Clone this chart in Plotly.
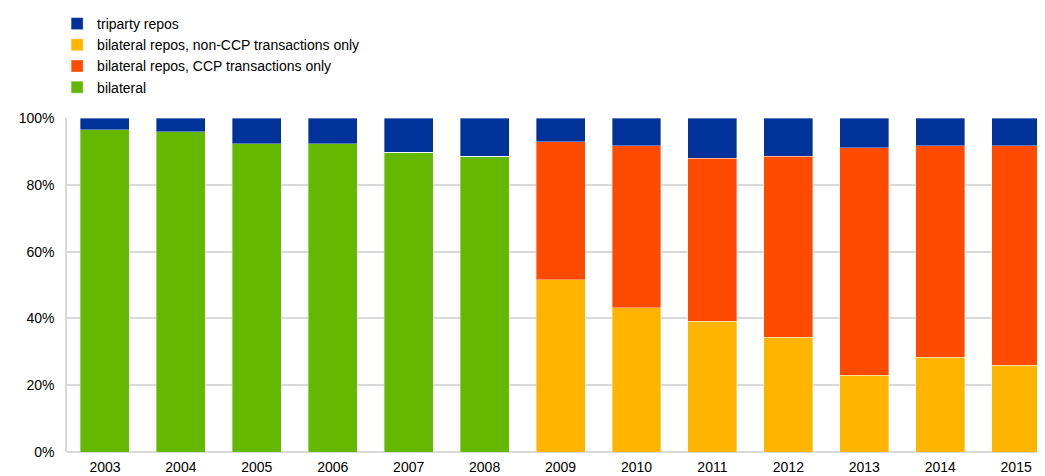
import plotly.graph_objects as go

years = ["2003", "2004", "2005", "2006", "2007", "2008", "2009",
         "2010", "2011", "2012", "2013", "2014", "2015"]
bilateral = [96.5, 95.9, 92.3, 92.3, 89.8, 88.6, 0, 0, 0, 0, 0, 0, 0]
non_ccp = [0, 0, 0, 0, 0, 0, 51.5, 43.2, 39.1, 34.3, 23.0, 28.4, 26.0]
ccp = [0, 0, 0, 0, 0, 0, 41.4, 48.5, 48.9, 54.3, 68.1, 63.3, 65.7]
triparty = [3.5, 4.1, 7.7, 7.7, 10.2, 11.4, 7.1, 8.3, 12.0, 11.4, 8.9, 8.3, 8.3]

names = ["triparty repos", "bilateral repos, non-CCP transactions only",
         "bilateral repos, CCP transactions only", "bilateral"]
colors = {"tri": "#003299", "non": "#FFB400", "ccp": "#FF4B00", "bil": "#65B800"}

fig = go.Figure()
line = dict(width=0.6, color="rgba(255,255,255,0.6)")
fig.add_trace(go.Bar(x=years, y=bilateral, name=names[3], marker=dict(color=colors["bil"], line=line), legendrank=4))
fig.add_trace(go.Bar(x=years, y=non_ccp, name=names[1], marker=dict(color=colors["non"], line=line), legendrank=2))
fig.add_trace(go.Bar(x=years, y=ccp, name=names[2], marker=dict(color=colors["ccp"], line=line), legendrank=3))
fig.add_trace(go.Bar(x=years, y=triparty, name=names[0], marker=dict(color=colors["tri"], line=line), legendrank=1))

fig.update_layout(
    width=1045, height=476,
    barmode="stack", bargap=0.355,
    margin=dict(l=59, r=8, t=110, b=32, autoexpand=False),
    paper_bgcolor="white", plot_bgcolor="white",
    font=dict(family="Liberation Sans, Arial, sans-serif", size=14, color="#000000"),
    legend=dict(x=0.047, y=1.0, xref="container", yref="container", xanchor="left", yanchor="top",
                traceorder="normal", font=dict(size=14), bgcolor="rgba(0,0,0,0)",
                itemwidth=30, tracegroupgap=0),
    showlegend=True,
)
fig.update_xaxes(type="category", range=[-0.5, 12.38], showgrid=False, ticks="",
                 showline=False, ticklabelstandoff=5,
                 tickfont=dict(family="Liberation Sans Narrow, Liberation Sans, Arial", size=14))
fig.update_yaxes(range=[0, 100], dtick=20, ticksuffix="%", showgrid=True, gridcolor="#D9D9D9",
                 gridwidth=1.5, showline=True, linecolor="#D9D9D9", linewidth=1.5, zeroline=True,
                 zerolinecolor="#D9D9D9", zerolinewidth=1.5, ticks="", ticklabelstandoff=8,
                 tickfont=dict(size=14))

fig.write_html("out.html")
